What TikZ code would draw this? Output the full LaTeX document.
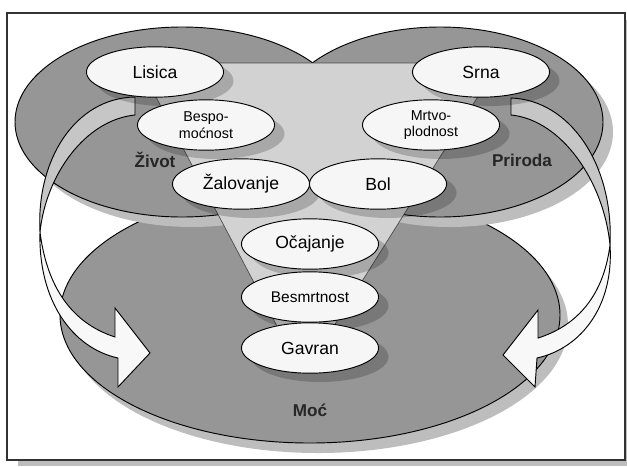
\documentclass[tikz,border=0pt]{standalone}
\usepackage{fontspec}
\setmainfont{Liberation Sans}
\usetikzlibrary{shapes.geometric,shadows}

\definecolor{ringgray}{RGB}{150,150,150}
\definecolor{ringshade}{RGB}{189,189,189}
\definecolor{funnelgray}{RGB}{210,210,210}
\definecolor{bubblefill}{RGB}{246,246,246}
\definecolor{arrowside}{RGB}{198,198,198}
\definecolor{arrowface}{RGB}{248,248,248}

\tikzset{
	ring/.style={draw=black, fill=ringgray, line width=0.8pt},
	ringshadow/.style={fill=ringshade},
	bubble/.style={draw=black, ellipse, fill=bubblefill, line width=0.8pt,
		minimum width=117pt, minimum height=43pt, inner sep=0pt, align=center,
		font=\fontsize{15}{16}\selectfont,
		drop shadow={shadow xshift=8.5pt, shadow yshift=-7.5pt, fill=black, opacity=0.2}},
	twoline/.style={font=\fontsize{12.2}{14}\selectfont},
	ringlabel/.style={font=\bfseries\fontsize{14.6}{16}\selectfont, text=black!85},
	bigarrow/.style={draw=black, line width=0.8pt, line join=miter},
}

\begin{document}
\begin{tikzpicture}[x=0.03cm, y=-0.03cm]
		\useasboundingbox (0,0) rectangle (627,466);

		% frame
		\fill[ringshade] (18,20) rectangle (627,466);
		\draw[fill=white, draw=black!80, line width=1.6pt] (7,13) rectangle (625,460);

		% rings
		\fill[ringshadow] (318,325) ellipse [x radius=250, y radius=128];
		\draw[ring] (310,315) ellipse [x radius=250, y radius=128];
		\fill[ringshadow] (192,132) ellipse [x radius=167, y radius=95];
		\fill[ringshadow] (450,132) ellipse [x radius=163, y radius=95];
		\draw[ring] (182,122) ellipse [x radius=167, y radius=95];
		\draw[ring] (440,122) ellipse [x radius=163, y radius=95];

		% funnel
		\draw[fill=funnelgray, draw=black!70, line width=0.6pt] (138,63) -- (499,63) -- (322,345) -- (287,345) -- cycle;

		\node (zivot)[ringlabel] at (155,160) {Život};
		\node (priroda)[ringlabel] at (522,160) {Priroda};
		\node (moc)[ringlabel] at (310,410) {Moć};

		% left arrow
		\draw[bigarrow, fill=arrowside] (135,97) .. controls (75,98) and (36,160) .. (40,232) .. controls (46,175) and (85,120) .. (135,115) -- cycle;
		\draw[bigarrow, fill=arrowface] (40,232) .. controls (48,295) and (78,325) .. (115,337) -- (115,308) -- (150,353) -- (118,387) -- (118,358) .. controls (72,348) and (38,300) .. (40,232) -- cycle;

		% right arrow
		\draw[bigarrow, fill=arrowside] (511,98) .. controls (570,100) and (614,165) .. (610,245) .. controls (604,182) and (562,120) .. (511,115) -- cycle;
		\draw[bigarrow, fill=arrowface] (610,245) .. controls (603,300) and (573,327) .. (538,338) -- (538,310) -- (503,355) -- (535,387) -- (537,358) .. controls (582,348) and (614,305) .. (610,245) -- cycle;

		\node (lisica)[bubble] at (155,72) {Lisica};
		\node (bespomocnost)[bubble, twoline] at (206,125) {Bespo-\\moćnost};
		\node (srna)[bubble] at (481,72) {Srna};
		\node (mrtvoplodnost)[bubble, twoline] at (431,125) {Mrtvo-\\plodnost};
		\node (zalovanje)[bubble] at (241,184) {Žalovanje};
		\node (bol)[bubble] at (378,184) {Bol};
		\node (ocajanje)[bubble] at (310,244) {Očajanje};
		\node (besmrtnost)[bubble, font=\fontsize{13.2}{14}\selectfont] at (310,297) {Besmrtnost};
		\node (gavran)[bubble] at (310,348) {Gavran};
	\end{tikzpicture}
\end{document}
